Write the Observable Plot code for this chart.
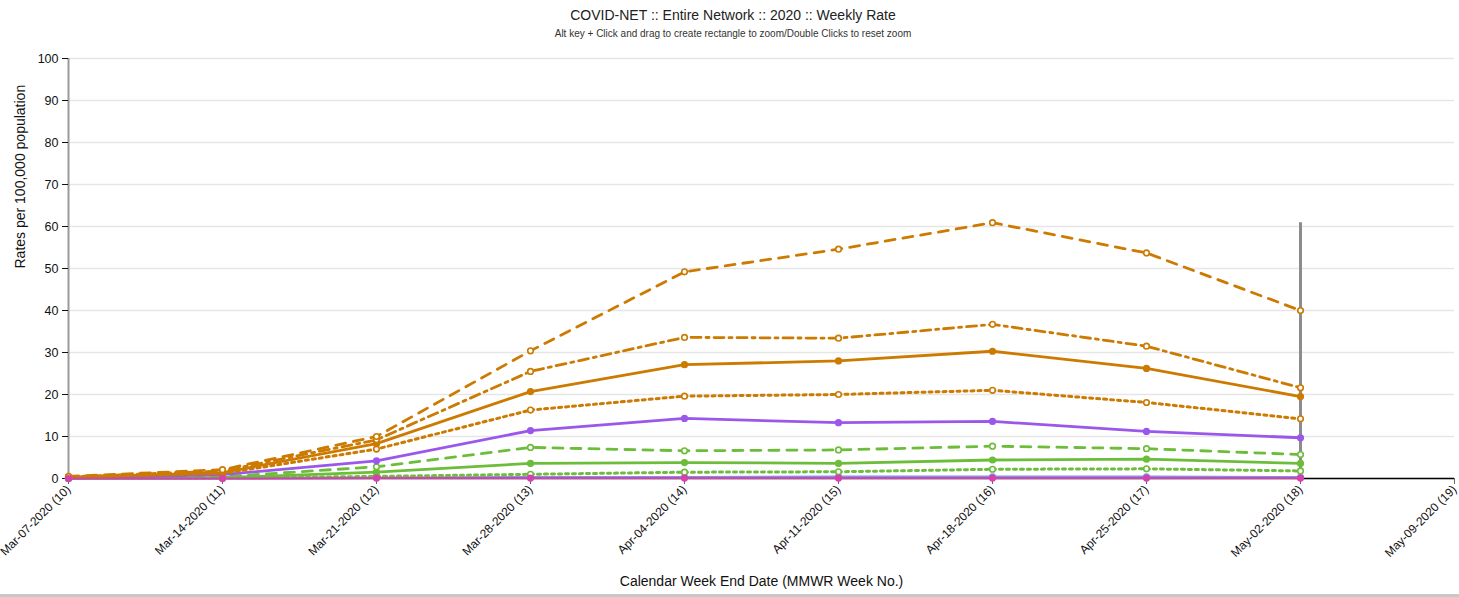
<!DOCTYPE html>
<html>
<head>
<meta charset="utf-8">
<script src="https://cdn.jsdelivr.net/npm/d3@7"></script>
<script src="https://cdn.jsdelivr.net/npm/@observablehq/plot@0.6"></script>
<style>
  html, body { margin: 0; padding: 0; background: #fff; }
  body { font-family: "Liberation Sans", Arial, sans-serif; width: 1459px; overflow: hidden; }
  #head { position: relative; height: 45px; }
  #t1 { position: absolute; top: 7px; left: 0; width: 1466px; text-align: center; font-size: 14px; color: #222; }
  #t2 { position: absolute; top: 28px; left: 0; width: 1466px; text-align: center; font-size: 10px; color: #333; }
  #chart { border-bottom: 3px solid #c8c8c8; height: 549px; }
</style>
</head>
<body>
<div id="head">
  <div id="t1">COVID-NET :: Entire Network :: 2020 :: Weekly Rate</div>
  <div id="t2">Alt key + Click and drag to create rectangle to zoom/Double Clicks to reset zoom</div>
</div>
<div id="chart"></div>
<script>
// ---- data ----
const weeks = [
  "Mar-07-2020 (10)", "Mar-14-2020 (11)", "Mar-21-2020 (12)", "Mar-28-2020 (13)",
  "Apr-04-2020 (14)", "Apr-11-2020 (15)", "Apr-18-2020 (16)", "Apr-25-2020 (17)",
  "May-02-2020 (18)", "May-09-2020 (19)"
];
const yTicks = [0, 10, 20, 30, 40, 50, 60, 70, 80, 90, 100];

const orangeDashed  = [0.5, 2.1, 10.0, 30.4, 49.2, 54.6, 60.9, 53.7, 40.0];
const orangeDashDot = [0.4, 1.8, 9.2, 25.5, 33.6, 33.4, 36.7, 31.5, 21.6];
const orangeSolid   = [0.3, 1.4, 8.3, 20.7, 27.1, 28.0, 30.3, 26.2, 19.5];
const orangeDotted  = [0.3, 1.2, 7.0, 16.3, 19.6, 20.0, 21.0, 18.1, 14.2];
const purpleSolid   = [0.1, 0.9, 4.2, 11.4, 14.3, 13.3, 13.6, 11.2, 9.7];
const greenDashed   = [0.1, 0.4, 2.8, 7.4, 6.6, 6.8, 7.7, 7.1, 5.7];
const greenSolid    = [0.0, 0.2, 1.5, 3.6, 3.8, 3.6, 4.4, 4.6, 3.6];
const greenDotted   = [0.0, 0.1, 0.5, 1.0, 1.5, 1.6, 2.2, 2.3, 1.8];
const blueSolid     = [0.0, 0.1, 0.2, 0.3, 0.3, 0.4, 0.4, 0.4, 0.3];
const magentaSolid  = [0.0, 0.0, 0.1, 0.1, 0.1, 0.1, 0.1, 0.1, 0.1];

const orange = "#cc7a00", purple = "#9b57ec", green = "#6cbd3a", blue = "#6f9bee", magenta = "#d83fb0";

const series = [
  {name: "blue", values: blueSolid, color: blue, dash: null, hollow: false, w: 2.5},
  {name: "green dotted", values: greenDotted, color: green, dash: "3,4", hollow: true, w: 3},
  {name: "green solid", values: greenSolid, color: green, dash: null, hollow: false, w: 2.8},
  {name: "green dashed", values: greenDashed, color: green, dash: "10,8", hollow: true, w: 2.8},
  {name: "purple", values: purpleSolid, color: purple, dash: null, hollow: false, w: 2.8},
  {name: "orange dotted", values: orangeDotted, color: orange, dash: "3,4", hollow: true, w: 3},
  {name: "orange solid", values: orangeSolid, color: orange, dash: null, hollow: false, w: 2.8},
  {name: "orange dashdot", values: orangeDashDot, color: orange, dash: "10,5,3,5", hollow: true, w: 2.8},
  {name: "orange dashed", values: orangeDashed, color: orange, dash: "10,8", hollow: true, w: 2.8},
  {name: "magenta", values: magentaSolid, color: magenta, dash: null, hollow: false, w: 2}
];

const rowsOf = s => s.values.map((v, i) => ({week: weeks[i], rate: v}));
const hoverWeek = weeks[8];
const hoverTop = d3.max(series, s => d3.max(s.values));

const marks = [
  Plot.gridY(yTicks, {stroke: "#e6e6e6", strokeOpacity: 1, strokeWidth: 1.5}),
  Plot.ruleX([weeks[0]], {y1: 0, y2: 100, stroke: "#9a9a9a", strokeWidth: 2}),
  Plot.ruleY([0], {stroke: "#000", strokeWidth: 1.5}),
  Plot.axisY({ticks: yTicks, tickSize: 6, tickPadding: 4, fontSize: 12.5, label: null}),
  Plot.axisX({tickRotate: -45, tickSize: 6, tickPadding: 3, fontSize: 12, label: null, stroke: "#666"}),
  Plot.ruleX([hoverWeek], {y1: 0, y2: hoverTop, stroke: "#8c8c8c", strokeWidth: 3})
];
for (const s of series) {
  marks.push(Plot.line(rowsOf(s), {
    x: "week", y: "rate", stroke: s.color, strokeWidth: s.w,
    strokeDasharray: s.dash || undefined, strokeLinejoin: "round"
  }));
}
for (const s of series) {
  marks.push(Plot.dot(rowsOf(s), {
    x: "week", y: "rate", r: 2.8, stroke: s.color, strokeWidth: 1.6,
    fill: s.hollow ? "#fff" : s.color
  }));
}
marks.push(Plot.text(["Rates per 100,000 population"], {
  frameAnchor: "left", rotate: -90, dx: -48, fontSize: 14, fill: "#111"
}));
marks.push(Plot.text(["Calendar Week End Date (MMWR Week No.)"], {
  frameAnchor: "bottom", dy: 107, fontSize: 14, fill: "#111"
}));

const chart = Plot.plot({
  width: 1459,
  height: 549,
  marginTop: 13,
  marginBottom: 116,
  marginLeft: 68,
  marginRight: 5,
  style: {fontFamily: "'Liberation Sans', Arial, sans-serif", color: "#111", background: "#fff", overflow: "visible"},
  x: {type: "point", domain: weeks, padding: 0},
  y: {domain: [0, 100]},
  marks
});
document.getElementById("chart").appendChild(chart);
</script>
</body>
</html>
